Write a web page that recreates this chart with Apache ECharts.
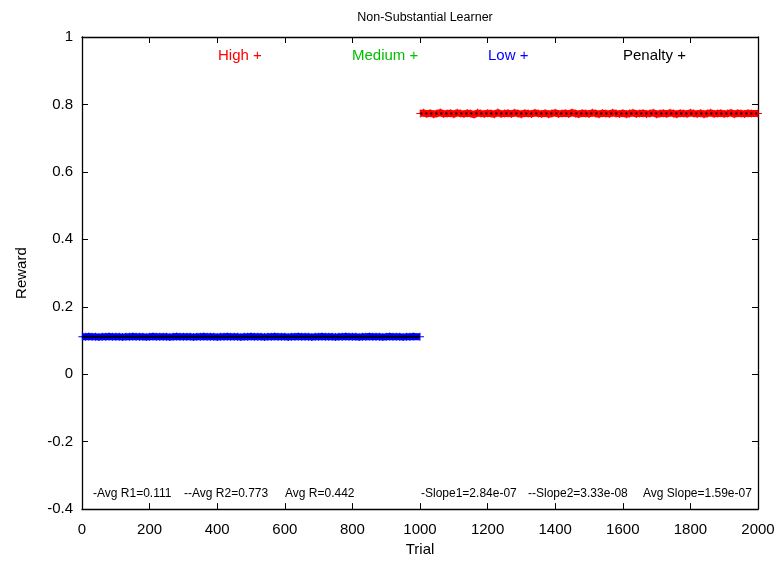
<!DOCTYPE html>
<html>
<head>
<meta charset="utf-8">
<script src="https://cdn.jsdelivr.net/npm/echarts@6/dist/echarts.min.js"></script>
<style>
  html, body { margin: 0; padding: 0; background: #fff; }
  #chart { width: 780px; height: 562px; }
</style>
</head>
<body>
<div id="chart"></div>
<script>
// Rewards sampled every 10 trials for each phase of the run
const lowTrialStart = 1, lowTrialEnd = 1000;
const highTrialStart = 1001, highTrialEnd = 2000;
const sampleStep = 10;

const lowReward = [
  0.111,0.111,0.112,0.111,0.111,0.110,0.111,0.111,0.112,0.111,
  0.111,0.111,0.110,0.111,0.111,0.112,0.111,0.111,0.111,0.110,
  0.111,0.112,0.111,0.111,0.111,0.111,0.110,0.111,0.112,0.111,
  0.111,0.111,0.111,0.110,0.111,0.111,0.112,0.111,0.111,0.111,
  0.110,0.111,0.111,0.112,0.111,0.111,0.111,0.110,0.111,0.111,
  0.112,0.111,0.111,0.111,0.110,0.111,0.111,0.112,0.111,0.111,
  0.111,0.110,0.111,0.111,0.112,0.111,0.111,0.111,0.110,0.111,
  0.111,0.112,0.111,0.111,0.111,0.110,0.111,0.111,0.112,0.111,
  0.111,0.111,0.110,0.111,0.111,0.112,0.111,0.111,0.111,0.110,
  0.111,0.112,0.111,0.111,0.111,0.110,0.111,0.111,0.112,0.111
];
const highReward = [
  0.773,0.775,0.772,0.774,0.771,0.773,0.776,0.772,0.773,0.774,
  0.771,0.775,0.773,0.772,0.774,0.773,0.770,0.775,0.773,0.772,
  0.774,0.773,0.771,0.776,0.772,0.773,0.774,0.772,0.775,0.773,
  0.771,0.774,0.773,0.772,0.775,0.773,0.772,0.774,0.771,0.773,
  0.775,0.772,0.773,0.774,0.772,0.776,0.773,0.771,0.774,0.773,
  0.772,0.775,0.773,0.771,0.774,0.773,0.772,0.775,0.773,0.772,
  0.774,0.771,0.773,0.775,0.772,0.773,0.774,0.772,0.773,0.775,
  0.771,0.773,0.774,0.772,0.775,0.773,0.771,0.774,0.773,0.772,
  0.775,0.773,0.772,0.774,0.771,0.773,0.775,0.772,0.773,0.774,
  0.772,0.773,0.775,0.771,0.774,0.773,0.772,0.774,0.773,0.773
];

// Phase averages (drawn as reference lines) and summary statistics
const avgR1 = 0.111;
const avgR2 = 0.773;
const summaryLabels = [
  '-Avg R1=0.111', '--Avg R2=0.773', 'Avg R=0.442',
  '-Slope1=2.84e-07', '--Slope2=3.33e-08', 'Avg Slope=1.59e-07'
];
const legendNames = ['High', 'Medium', 'Low', 'Penalty'];
const legendColors = ['#ff0000', '#00c000', '#0000ff', '#000000'];

// trial index for each sample: first trial of the phase, then every 10th, ending on the last
function phasePoints(start, end, values) {
  const pts = [];
  for (let i = 0; i < values.length; i++) {
    const t = i === values.length - 1 ? end : start - 1 + i * sampleStep + (i === 0 ? 1 : 0);
    pts.push([t, values[i]]);
  }
  return pts;
}

const lowData = phasePoints(lowTrialStart, lowTrialEnd, lowReward);
const highData = phasePoints(highTrialStart, highTrialEnd, highReward);

const FONT = '"Liberation Sans", Arial, Helvetica, sans-serif';
const crossIcon = 'path://M0,4.4H10V5.6H0Z M4.4,0H5.6V10H4.4Z';

const grid = { left: 82, right: 22, top: 37, bottom: 50 };
const plotW = 780 - grid.left - grid.right;

const chart = echarts.init(document.getElementById('chart'), null, { renderer: 'canvas' });

const axisCommon = {
  axisLine: { show: true, onZero: false, lineStyle: { color: '#000', width: 1.3 } },
  axisTick: { show: true, inside: true, length: 6, lineStyle: { color: '#000', width: 1 } },
  splitLine: { show: false }
};
const labelStyle = { fontFamily: FONT, fontSize: 15, color: '#000' };

const legendX = [218, 352, 488, 623];
const summaryX = [93, 184, 285, 421, 528, 643];

const graphics = [];
legendNames.forEach((n, i) => {
  graphics.push({
    type: 'text', left: legendX[i], top: 48,
    style: { text: n + ' +', fill: legendColors[i], font: '15px ' + FONT }
  });
});
summaryLabels.forEach((s, i) => {
  graphics.push({
    type: 'text', left: summaryX[i], top: 488,
    style: { text: s, fill: '#000', font: '12px ' + FONT }
  });
});

function bandSeries(name, data, color, z) {
  return {
    name: name, type: 'line', data: data,
    symbol: crossIcon, symbolSize: 8, showAllSymbol: true,
    lineStyle: { color: color, width: 7 },
    itemStyle: { color: color }, z: z
  };
}

chart.setOption({
  animation: false,
  backgroundColor: '#fff',
  title: {
    text: 'Non-Substantial Learner',
    left: grid.left + plotW / 2, textAlign: 'center', top: 6,
    textStyle: { fontFamily: FONT, fontSize: 12.5, fontWeight: 'normal', color: '#000' }
  },
  grid: grid,
  xAxis: [
    Object.assign({
      type: 'value', min: 0, max: 2000, interval: 200, position: 'bottom',
      name: 'Trial', nameLocation: 'middle', nameGap: 32,
      nameTextStyle: labelStyle,
      axisLabel: Object.assign({ margin: 13, formatter: v => String(v) }, labelStyle)
    }, axisCommon),
    Object.assign({
      type: 'value', min: 0, max: 2000, interval: 200, position: 'top',
      axisLabel: { show: false }
    }, axisCommon)
  ],
  yAxis: [
    Object.assign({
      type: 'value', min: -0.4, max: 1, interval: 0.2, position: 'left',
      name: 'Reward', nameLocation: 'middle', nameGap: 53, nameRotate: 90,
      nameTextStyle: labelStyle,
      axisLabel: Object.assign({ margin: 9,
        formatter: v => String(Math.round(v * 10) / 10) }, labelStyle)
    }, axisCommon),
    Object.assign({
      type: 'value', min: -0.4, max: 1, interval: 0.2, position: 'right',
      axisLabel: { show: false }
    }, axisCommon)
  ],
  graphic: graphics,
  series: [
    bandSeries('Low', lowData, '#0000ff', 2),
    bandSeries('High', highData, '#ff0000', 2),
    {
      name: 'Avg R1', type: 'line', data: [[lowTrialStart, avgR1], [lowTrialEnd, avgR1]],
      symbol: 'none', lineStyle: { color: '#000', width: 2, type: 'solid' }, z: 3
    },
    {
      name: 'Avg R2', type: 'line', data: [[highTrialStart, avgR2], [highTrialEnd, avgR2]],
      symbol: 'none', lineStyle: { color: '#000', width: 2, type: [2, 3] }, z: 3
    }
  ]
});
</script>
</body>
</html>
